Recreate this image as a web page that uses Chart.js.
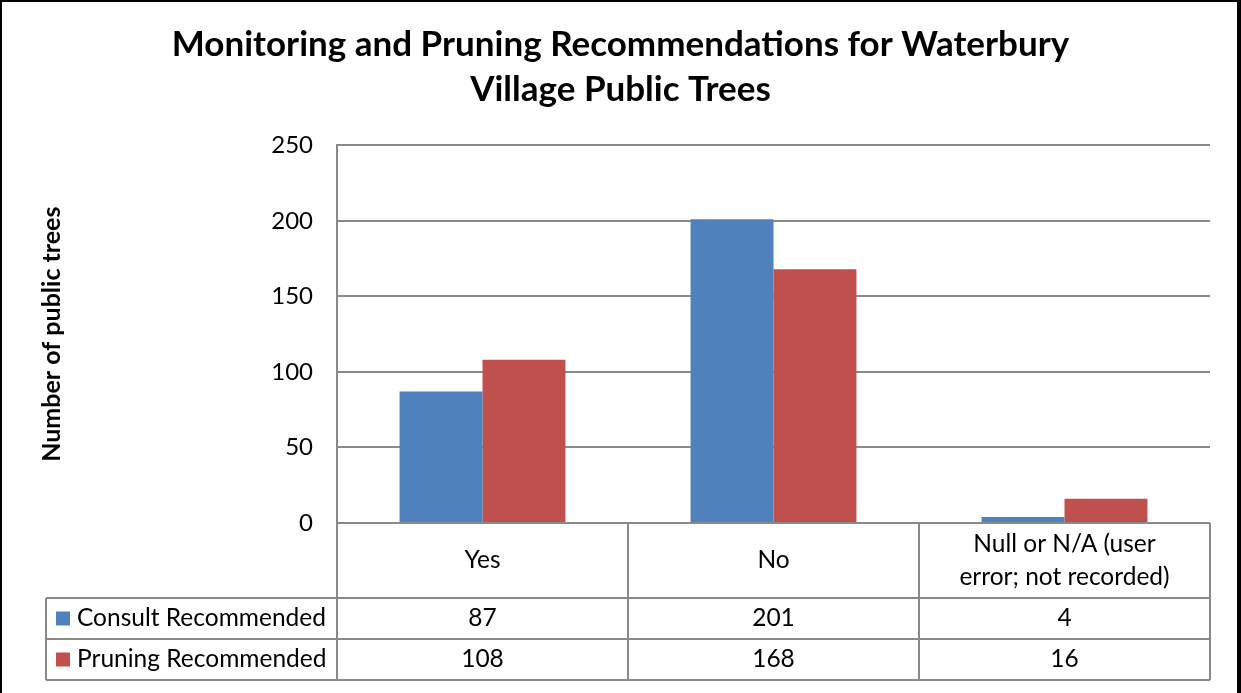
<!DOCTYPE html>
<html>
<head>
<meta charset="utf-8">
<script src="https://cdn.jsdelivr.net/npm/chart.js@4.4.1/dist/chart.umd.min.js"></script>
<style>
  html, body { margin: 0; padding: 0; background: #ffffff; }
  #c { display: block; }
</style>
</head>
<body>
<canvas id="c" width="1241" height="693"></canvas>
<script>
const titleLines = ['Monitoring and Pruning Recommendations for Waterbury', 'Village Public Trees'];
const categories = [['Yes'], ['No'], ['Null or N/A (user', 'error; not recorded)']];
const seriesNames = ['Consult Recommended', 'Pruning Recommended'];
const consultValues = [87, 201, 4];
const pruningValues = [108, 168, 16];
const seriesColors = ['#4F81BD', '#C0504D'];
const yMax = 250;
const yStep = 50;

const FONT = 'Lato, "Open Sans", sans-serif';
const GRID = '#8a8a8a';

const tablePlugin = {
  id: 'dataTable',
  afterDraw(chart) {
    const ctx = chart.ctx;
    const area = chart.chartArea;
    const xs = chart.scales.x;
    const n = categories.length;
    const catW = (area.right - area.left) / n;
    const top = area.bottom;
    const row1 = top + 75;
    const row2 = row1 + 41;
    const row3 = row2 + 41;
    const legendLeft = 46;
    ctx.save();
    ctx.strokeStyle = GRID;
    ctx.lineWidth = 2;
    ctx.beginPath();
    ctx.moveTo(area.left, top); ctx.lineTo(area.right, top);
    ctx.moveTo(legendLeft, row1); ctx.lineTo(area.right, row1);
    ctx.moveTo(legendLeft, row2); ctx.lineTo(area.right, row2);
    ctx.moveTo(legendLeft, row3); ctx.lineTo(area.right, row3);
    ctx.moveTo(legendLeft, row1); ctx.lineTo(legendLeft, row3);
    for (let i = 0; i <= n; i++) {
      const x = area.left + i * catW;
      ctx.moveTo(x, top); ctx.lineTo(x, row3);
    }
    ctx.stroke();

    ctx.fillStyle = '#000000';
    ctx.textAlign = 'center';
    ctx.textBaseline = 'middle';
    ctx.font = '24.5px ' + FONT;
    categories.forEach((lines, i) => {
      const cx = xs.getPixelForValue(i);
      const cy = (top + row1) / 2;
      const lh = 33;
      lines.forEach((t, j) => {
        ctx.fillText(t, cx, cy + (j - (lines.length - 1) / 2) * lh);
      });
    });
    const series = [consultValues, pruningValues];
    const rowTops = [row1, row2];
    series.forEach((vals, s) => {
      const cy = rowTops[s] + 20.5;
      vals.forEach((v, i) => {
        ctx.fillText(String(v), xs.getPixelForValue(i), cy);
      });
      ctx.fillStyle = seriesColors[s];
      ctx.fillRect(56, cy - 7, 14, 14);
      ctx.fillStyle = '#000000';
      ctx.textAlign = 'left';
      ctx.fillText(seriesNames[s], 77, cy);
      ctx.textAlign = 'center';
    });

    ctx.fillStyle = '#000000';
    ctx.fillRect(0, 0, chart.width, 2);
    ctx.fillRect(0, 0, 2, chart.height);
    ctx.fillRect(chart.width - 4, 0, 4, chart.height);
    ctx.restore();
  }
};

new Chart(document.getElementById('c'), {
  type: 'bar',
  data: {
    labels: categories,
    datasets: [
      { label: seriesNames[0], data: consultValues, backgroundColor: seriesColors[0], borderWidth: 0, categoryPercentage: 0.57, barPercentage: 1.0 },
      { label: seriesNames[1], data: pruningValues, backgroundColor: seriesColors[1], borderWidth: 0, categoryPercentage: 0.57, barPercentage: 1.0 }
    ]
  },
  options: {
    responsive: false,
    animation: false,
    devicePixelRatio: 1,
    layout: { padding: { left: 0, right: 0, top: 0, bottom: 170 } },
    plugins: {
      legend: { display: false },
      tooltip: { enabled: false },
      title: {
        display: true,
        text: titleLines,
        color: '#000000',
        font: { family: FONT, size: 35, weight: 'bold', lineHeight: 1.29 },
        padding: { top: 22, bottom: 33 }
      }
    },
    scales: {
      x: { display: false },
      y: {
        min: 0,
        max: yMax,
        ticks: { stepSize: yStep, color: '#000000', padding: 24, font: { family: FONT, size: 24 } },
        grid: { color: GRID, lineWidth: 2, drawTicks: false },
        border: { display: true, color: GRID, width: 2 },
        title: {
          display: true,
          text: 'Number of public trees',
          color: '#000000',
          font: { family: FONT, size: 25, weight: 'bold' },
          padding: { top: 37, bottom: 0 }
        },
        afterFit(scale) { scale.width = 337; }
      },
      yRight: {
        position: 'right',
        display: true,
        min: 0,
        max: yMax,
        ticks: { display: false },
        grid: { display: false, drawTicks: false },
        border: { display: false },
        afterFit(scale) { scale.width = 31; }
      }
    }
  },
  plugins: [tablePlugin]
});
</script>
</body>
</html>
